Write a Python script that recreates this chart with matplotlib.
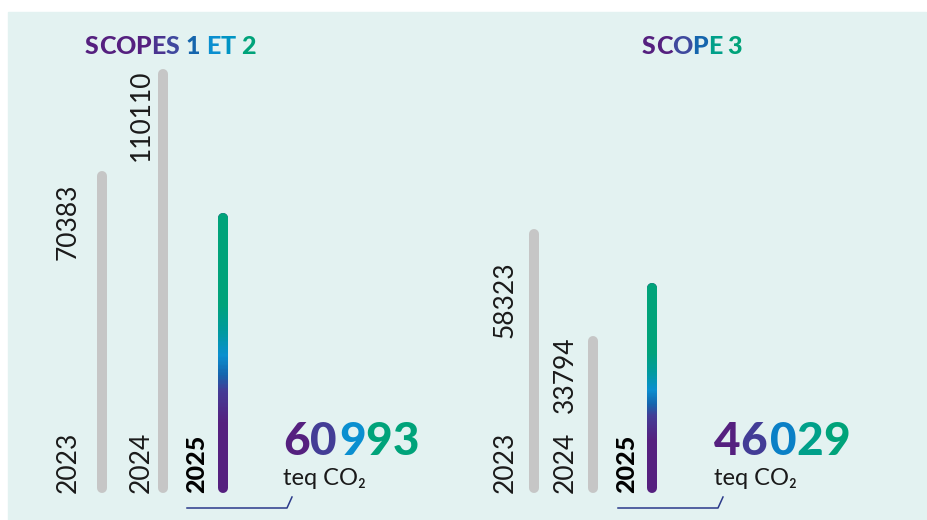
import matplotlib
matplotlib.use("Agg")
import matplotlib.pyplot as plt
import numpy as np
from matplotlib.collections import LineCollection
from matplotlib.colors import LinearSegmentedColormap
from matplotlib.patches import Rectangle

# ── Data ─────────────────────────────────────────────────────────
years = ["2023", "2024", "2025"]
scope12 = [70383, 110110, 60993]
scope3 = [58323, 33794, 46029]
scope12_total = "60 993"
scope3_total = "46 029"
unit_label = "teq CO\u2082"

# ── Style ────────────────────────────────────────────────────────
W, H = 928, 520
BG = "#e3f2f1"
GREY = "#c6c6c6"
PURPLE = "#55207f"
INDIGO = "#433d96"
DBLUE = "#1565ad"
LBLUE = "#0a8fd0"
TEAL = "#00a08a"
GREEN = "#00a37a"
NAVY = "#2b3a8a"
INK = "#1a1a1a"
FONT = ["Lato", "DejaVu Sans"]
LW = 7.2                     # 10 px bars

grad = LinearSegmentedColormap.from_list("scope", [
    (0.00, PURPLE), (0.24, PURPLE), (0.36, INDIGO), (0.42, DBLUE),
    (0.49, LBLUE), (0.58, "#009a9e"), (0.68, GREEN), (1.00, GREEN)])

fig = plt.figure(figsize=(W / 100, H / 100), dpi=100)
fig.patch.set_facecolor("white")

# pixel-space canvas for background and decorations
canvas = fig.add_axes([0, 0, 1, 1])
canvas.set_xlim(0, W)
canvas.set_ylim(H, 0)
canvas.set_axis_off()
canvas.add_patch(Rectangle((8, 12), 918, 508, color=BG, zorder=0))


def px_axes(x0, x1, y_top, y_bot):
    return fig.add_axes([x0 / W, 1 - y_bot / H, (x1 - x0) / W, (y_bot - y_top) / H])


def draw_panel(ax, values, ymax, year_dx, value_drop):
    ax.set_xlim(-1, 3)
    ax.set_ylim(0, ymax)
    ax.set_axis_off()
    shown = np.minimum(values, ymax)
    for i, (v, s) in enumerate(zip(values, shown)):
        dx = year_dx[i] * 0.72
        if i < 2:
            ax.plot([i, i], [0, s], color=GREY, lw=LW, solid_capstyle="round",
                    clip_on=False, zorder=2)
            ax.annotate(years[i], (i, 0), xytext=(dx, -3.6), textcoords="offset points",
                        rotation=90, rotation_mode="anchor", ha="left", va="center",
                        fontsize=19, fontweight="normal", family=FONT, color=INK)
            ax.annotate(f"{v}", (i, s), xytext=(dx, 3.6 - value_drop[i] * 0.72),
                        textcoords="offset points", rotation=90, rotation_mode="anchor",
                        ha="right", va="center", fontsize=19, fontweight="normal",
                        family=FONT, color=INK)
        else:
            ax.plot([i, i], [0, s], color=PURPLE, lw=LW, solid_capstyle="round",
                    clip_on=False, zorder=2)
            ax.plot([i, i], [s * 0.95, s], color=GREEN, lw=LW, solid_capstyle="round",
                    clip_on=False, zorder=3)
            ys = np.linspace(0, s, 201)
            segs = [[(i, ys[k]), (i, ys[k + 1] * 1.002)] for k in range(200)]
            lc = LineCollection(segs, colors=grad(np.linspace(0, 1, 200)), lw=LW,
                                capstyle="butt", zorder=4, clip_on=False)
            ax.add_collection(lc)
            ax.annotate(years[i], (i, 0), xytext=(dx, -3.6), textcoords="offset points",
                        rotation=90, rotation_mode="anchor", ha="left", va="center",
                        fontsize=18, fontweight="black", family=FONT, color="black")


left = px_axes(41.5, 283.5, 74, 488)
draw_panel(left, scope12, 414 / 0.00443, [-34, -21, -26], [12, 0])
right = px_axes(475, 711, 74, 488)
draw_panel(right, scope3, 414 / 0.00435, [-29, -28, -25], [32, 0])

renderer = fig.canvas.get_renderer()


def colored_run(x, y, pieces, size, weight, gap):
    for s, c in pieces:
        if s == " ":
            x += gap
            continue
        t = canvas.text(x, y, s, color=c, fontsize=size, fontweight=weight,
                        family=FONT, ha="left", va="baseline")
        x += t.get_window_extent(renderer).width


colored_run(85, 54, [("S", PURPLE), ("C", PURPLE), ("O", PURPLE), ("P", PURPLE),
                     ("E", "#4a3490"), ("S", "#40489e"), (" ", None), ("1", DBLUE),
                     (" ", None), ("E", LBLUE), ("T", "#0094c4"), (" ", None),
                     ("2", GREEN)], 18, "black", 6)
colored_run(642, 54, [("S", PURPLE), ("C", PURPLE), ("O", "#3f4a9e"), ("P", DBLUE),
                      ("E", TEAL), (" ", None), ("3", GREEN)], 18, "black", 5)

colored_run(283, 455, list(zip(scope12_total,
                               [PURPLE, INDIGO, None, LBLUE, GREEN, GREEN])), 33, "black", 3)
colored_run(714, 455, list(zip(scope3_total,
                               [PURPLE, INDIGO, None, "#0a80c6", TEAL, GREEN])), 33, "black", 3)

for x0 in (283, 714):
    canvas.text(x0, 485, unit_label, fontsize=17, fontweight="normal", family=FONT,
                color=INK, ha="left", va="baseline")

# bracket lines under the 2025 bars
canvas.plot([187, 287, 292], [508, 508, 497], color=NAVY, lw=1.1)
canvas.plot([618, 718, 723], [508, 508, 497], color=NAVY, lw=1.1)

fig.savefig("out.png", dpi=100, facecolor=fig.get_facecolor())
